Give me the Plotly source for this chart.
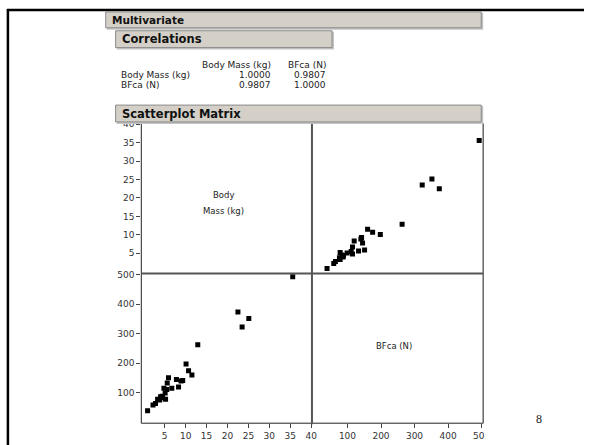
import plotly.graph_objects as go

W, H = 591, 445

# ---- data ----
body_mass = [35.6, 22.5, 25.1, 23.5, 12.9, 10.1, 10.7, 11.5, 5.9, 7.8, 8.9, 9.3,
             5.6, 8.3, 6.7, 4.8, 5.5, 5.1, 4.0, 4.5, 5.2, 3.3, 3.8, 4.4, 2.8, 2.2, 0.9]
bfca = [493, 374, 352, 323, 263, 198, 175, 160, 151, 145, 140, 142,
        133, 120, 115, 115, 111, 99, 87, 83, 78, 78, 76, 88, 64, 59, 39]

var_names = ["Body Mass (kg)", "BFca (N)"]
corr_row1 = ["1.0000", "0.9807"]
corr_row2 = ["0.9807", "1.0000"]

bm_ticks = [5, 10, 15, 20, 25, 30, 35, 40]
bf_ticks = [100, 200, 300, 400, 500]


def fx(px):
    return px / W


def fy(py):
    return 1 - py / H


XL, XM, XR = 143, 315.7, 489
YT, YM, YB = 120.5, 272, 423

FONT = "DejaVu Sans, Verdana, sans-serif"
tickfont = dict(family=FONT, size=9, color="#333")

fig = go.Figure()
fig.add_trace(go.Scatter(x=body_mass, y=bfca, mode="markers", xaxis="x", yaxis="y",
                         marker=dict(symbol="square", size=5, color="black"),
                         showlegend=False, hoverinfo="skip"))
fig.add_trace(go.Scatter(x=bfca, y=body_mass, mode="markers", xaxis="x2", yaxis="y2",
                         marker=dict(symbol="square", size=5, color="black"),
                         showlegend=False, hoverinfo="skip"))

common = dict(showgrid=False, zeroline=False, ticks="outside", ticklen=4,
              tickcolor="#444", tickwidth=1, tickfont=tickfont, fixedrange=True,
              showline=False)

fig.update_layout(
    width=W, height=H, autosize=False,
    margin=dict(l=0, r=0, t=0, b=0),
    paper_bgcolor="white", plot_bgcolor="white",
    xaxis=dict(domain=[fx(XL), fx(XM)], range=[-0.6, 40.2], anchor="y",
               tickvals=bm_ticks, **common),
    yaxis=dict(domain=[fy(YB), fy(YM)], range=[-3, 504], anchor="x",
               tickvals=bf_ticks, **common),
    xaxis2=dict(domain=[fx(XM), fx(XR)], range=[-6, 505], anchor="y",
                tickvals=bf_ticks, **common),
    yaxis2=dict(domain=[fy(YM), fy(YT)], range=[-0.5, 40.2], anchor="x",
                tickvals=bm_ticks, **common),
)

shapes = []


def line(x0, y0, x1, y1, color, width):
    shapes.append(dict(type="line", xref="paper", yref="paper",
                       x0=fx(x0), y0=fy(y0), x1=fx(x1), y1=fy(y1),
                       line=dict(color=color, width=width), layer="above"))


def rect(x0, y0, x1, y1, fill, lc=None, lw=0):
    shapes.append(dict(type="rect", xref="paper", yref="paper",
                       x0=fx(x0), y0=fy(y0), x1=fx(x1), y1=fy(y1),
                       fillcolor=fill, line=dict(color=lc or fill, width=lw),
                       layer="above"))


# plot frame lines
line(XL, YT, XL, YB, "#222", 1)
line(XL, YB, XR, YB, "#222", 1)
line(XR, YT, XR, YB, "#666", 1.5)
line(XM, YT, XM, YB + 1, "#555", 2)
line(XL, YM, XR, YM, "#555", 2)
# clip the last tick label
rect(490, 428, 505, 442, "white")

# slide frame
line(7, 6, 591, 6, "black", 2.5)
line(8, 5, 8, 445, "black", 2.5)


def header(x0, y0, x1, y1):
    rect(x0 + 1, y0 + 1, x1 + 2, y1 + 2, "#c4c4c4")
    rect(x0, y0, x1, y1, "#d4d0c8", "#8a8a8a", 1)


header(107, 8, 487, 24)
header(117, 27, 336, 44)
header(117, 102, 487, 119)

fig.update_layout(shapes=shapes)

ann = []


def text(x, y, s, size=9, xanchor="left", family=FONT, color="#222"):
    ann.append(dict(x=fx(x), y=fy(y), xref="paper", yref="paper", text=s,
                    showarrow=False, xanchor=xanchor, yanchor="middle",
                    font=dict(family=family, size=size, color=color)))


text(111, 16, "<b>Multivariate</b>", size=10.5, color="#111")
text(121, 35.5, "<b>Correlations</b>", size=11.5, color="#111")
text(121, 110.5, "<b>Scatterplot Matrix</b>", size=11.5, color="#111")

# correlation table
text(276, 62, var_names[0], xanchor="right")
text(332, 62, var_names[1], xanchor="right")
text(120, 72, var_names[0])
text(276, 72, corr_row1[0], xanchor="right")
text(332, 72, corr_row1[1], xanchor="right")
text(120, 82, var_names[1])
text(276, 82, corr_row2[0], xanchor="right")
text(332, 82, corr_row2[1], xanchor="right")

# diagonal labels
text(226, 193, "Body", size=8.5, xanchor="center")
text(226, 208.5, "Mass (kg)", size=8.5, xanchor="center")
text(399, 345, var_names[1], size=8.5, xanchor="center")

# page number
text(545, 419, "8", size=12, xanchor="center", family="Liberation Serif, Times New Roman, serif")

fig.update_layout(annotations=ann)

fig.write_html("out.html", config={"displayModeBar": False},
               post_script="document.body.style.margin='0';document.body.style.overflow='hidden';")
